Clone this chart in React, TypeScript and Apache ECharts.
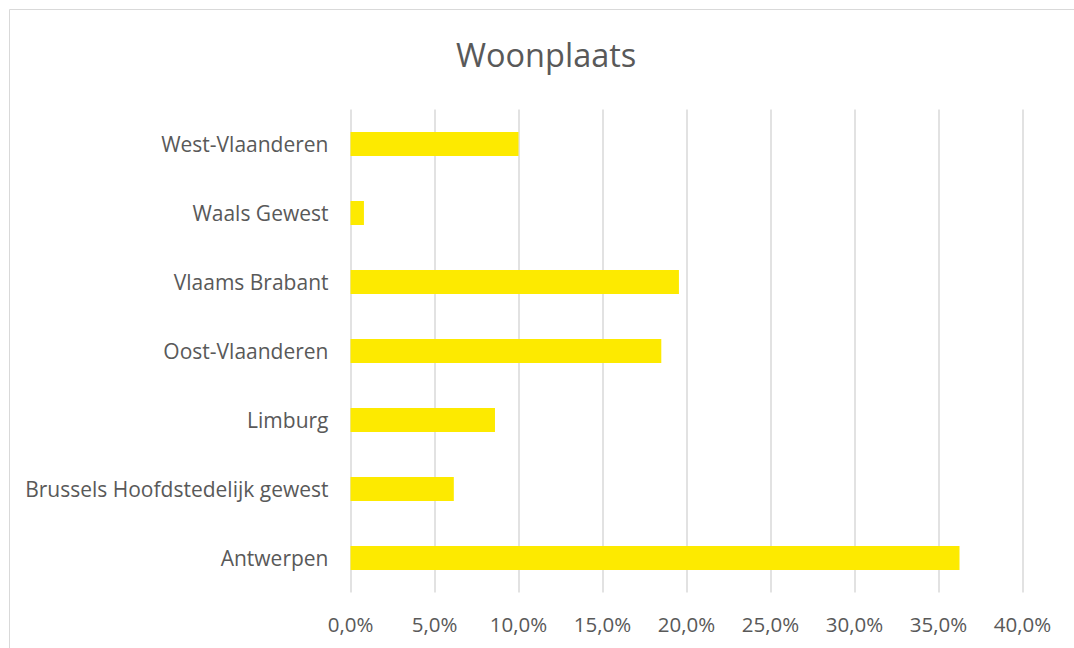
import React, { useEffect, useRef } from "react";
import * as echarts from "echarts";

const categories = [
  "Antwerpen",
  "Brussels Hoofdstedelijk gewest",
  "Limburg",
  "Oost-Vlaanderen",
  "Vlaams Brabant",
  "Waals Gewest",
  "West-Vlaanderen",
];
const values = [36.25, 6.15, 8.6, 18.5, 19.55, 0.8, 10.0];
const titleText = "Woonplaats";

export default function App() {
  const ref = useRef<HTMLDivElement>(null);
  useEffect(() => {
    document.body.style.margin = "0";
    const chart = echarts.init(ref.current!, null, { renderer: "svg" });
    const font = "'Open Sans', sans-serif";
    chart.setOption({
      animation: false,
      backgroundColor: "#ffffff",
      title: {
        text: titleText,
        left: 451,
        top: 33,
        textStyle: { fontFamily: font, fontSize: 32.5, fontWeight: "normal", color: "#595959" },
      },
      graphic: [
        {
          type: "rect",
          shape: { x: 9.5, y: 9.5, width: 1080, height: 660 },
          style: { fill: "none", stroke: "#d9d9d9", lineWidth: 1 },
          silent: true,
        },
      ],
      grid: { left: 350.5, right: 51.5, top: 109.5, bottom: 55.5 },
      xAxis: {
        type: "value",
        min: 0,
        max: 40,
        interval: 5,
        axisLine: { show: false },
        axisTick: { show: false },
        splitLine: { show: true, lineStyle: { color: "#d9d9d9", width: 1.5 } },
        axisLabel: {
          margin: 21,
          fontFamily: font,
          fontSize: 20.5,
          color: "#595959",
          formatter: (v: number) => v.toFixed(1).replace(".", ",") + "%",
        },
      },
      yAxis: {
        type: "category",
        data: categories,
        axisLine: { show: false },
        axisTick: { show: false },
        axisLabel: { margin: 22, fontFamily: font, fontSize: 21, color: "#595959" },
      },
      series: [
        {
          type: "bar",
          data: values,
          barWidth: 24,
          itemStyle: { color: "#FDEA00" },
        },
      ],
    });
    return () => chart.dispose();
  }, []);
  return <div ref={ref} style={{ width: 1074, height: 648 }} />;
}
